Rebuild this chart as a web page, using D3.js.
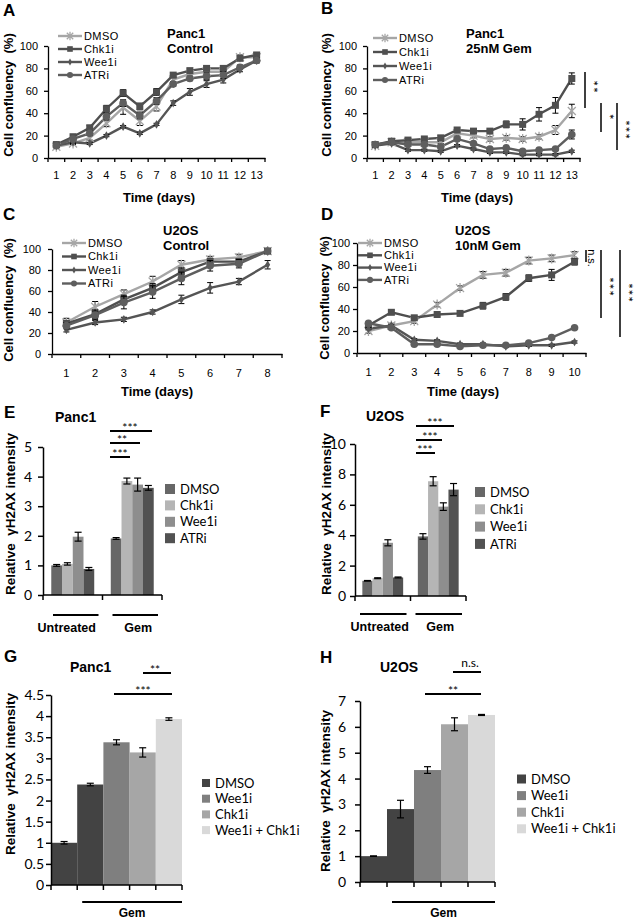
<!DOCTYPE html>
<html>
<head>
<meta charset="utf-8">
<script src="https://cdn.jsdelivr.net/npm/d3@7/dist/d3.min.js"></script>
<style>
  body { margin: 0; background: #fff; }
  svg text { font-family: "Liberation Sans", Arial, sans-serif; fill: #000; }
  svg text.cal { font-family: Lato, "Open Sans", sans-serif; }
</style>
</head>
<body>
<svg id="fig" width="636" height="920"></svg>
<script>
var treatments = ['DMSO', 'Chk1i', 'Wee1i', 'ATRi'];
var days13 = [1, 2, 3, 4, 5, 6, 7, 8, 9, 10, 11, 12, 13];
var days8 = [1, 2, 3, 4, 5, 6, 7, 8];
var days10 = [1, 2, 3, 4, 5, 6, 7, 8, 9, 10];
var confluencyTicks = [0, 20, 40, 60, 80, 100];

// A: Panc1 control
var aDmso = [10, 13, 18, 31, 45, 33, 46, 70, 75, 77, 77, 90, 90];
var aChk1i = [12, 19, 27, 44, 58, 46, 59, 74, 78, 80, 80, 89, 92];
var aWee1i = [11, 14, 13, 20, 28, 22, 30, 49, 59, 66, 70, 79, 87];
var aAtri = [11, 17, 22, 37, 49, 38, 51, 66, 71, 73, 74, 81, 87];
var aErr = [[1, 1, 2, 3, 6, 4, 4, 2, 2, 2, 2, 2, 2], [1, 2, 2, 3, 3, 3, 3, 2, 2, 2, 2, 2, 2],
  [1, 1, 1, 1, 1, 1, 1, 2, 3, 3, 3, 2, 2], [1, 1, 2, 3, 3, 3, 3, 2, 2, 3, 3, 2, 2]];

// B: Panc1 25nM Gem
var bDmso = [11, 14, 14, 14, 14, 22, 20, 17, 18, 17, 19, 25, 42];
var bChk1i = [12, 15, 16, 17, 18, 25, 24, 24, 30, 30, 39, 47, 71];
var bWee1i = [11, 13, 7, 7, 6, 11, 8, 5, 5, 3, 3, 3, 6];
var bAtri = [12, 14, 12, 12, 10, 17, 13, 8, 9, 6, 7, 8, 21];
var bErr = [[1, 1, 1, 1, 1, 2, 2, 2, 2, 2, 2, 4, 6], [1, 1, 1, 1, 2, 2, 2, 1, 3, 5, 6, 7, 5],
  [1, 1, 1, 1, 1, 1, 1, 1, 1, 1, 1, 1, 1], [1, 1, 1, 1, 1, 1, 1, 1, 1, 1, 1, 1, 4]];

// C: U2OS control
var cDmso = [30, 45, 57, 69, 85, 90, 92, 98];
var cChk1i = [29, 38, 52, 63, 78, 88, 88, 98];
var cWee1i = [23, 30, 33, 40, 52, 63, 69, 85];
var cAtri = [27, 37, 49, 59, 72, 84, 86, 98];
var cErr = [[4, 5, 4, 5, 4, 3, 3, 2], [3, 4, 4, 4, 4, 3, 3, 2], [2, 2, 2, 2, 4, 5, 3, 4], [3, 4, 6, 6, 6, 5, 4, 2]];

// D: U2OS 10nM Gem
var dDmso = [20, 25, 29, 44, 59, 71, 73, 84, 86, 89];
var dChk1i = [25, 37, 32, 35, 36, 43, 51, 68, 71, 83];
var dWee1i = [22, 25, 12, 11, 8, 8, 6, 7, 7, 10];
var dAtri = [27, 23, 8, 8, 6, 7, 7, 9, 14, 23];
var dErr = [[2, 2, 2, 2, 2, 3, 3, 3, 3, 3], [2, 2, 2, 2, 2, 3, 3, 3, 5, 3],
  [1, 1, 1, 1, 1, 1, 1, 1, 1, 1], [1, 1, 1, 1, 1, 1, 1, 1, 1, 1]];

// E, F: gammaH2AX, untreated vs Gem
var groups = ['Untreated', 'Gem'];
var eUntreated = [1.0, 1.05, 1.97, 0.88];
var eGem = [1.91, 3.85, 3.73, 3.62];
var eUntreatedErr = [0.03, 0.04, 0.15, 0.05];
var eGemErr = [0.03, 0.1, 0.22, 0.08];
var fUntreated = [1.0, 1.17, 3.5, 1.22];
var fGem = [3.92, 7.55, 5.88, 7.0];
var fUntreatedErr = [0.02, 0.03, 0.2, 0.03];
var fGemErr = [0.18, 0.3, 0.25, 0.4];

// G, H: combination
var comboBars = ['DMSO', 'DMSO+Gem', 'Wee1i+Gem', 'Chk1i+Gem', 'Combo+Gem'];
var comboLegend = ['DMSO', 'Wee1i', 'Chk1i', 'Wee1i + Chk1i'];
var gValues = [1.0, 2.38, 3.38, 3.14, 3.93];
var gErr = [0.03, 0.03, 0.06, 0.11, 0.03];
var hValues = [1.0, 2.82, 4.33, 6.1, 6.46];
var hErr = [0.01, 0.34, 0.13, 0.25, 0.02];

var svg = d3.select('#fig');
var lineColors = ['#a6a6a6', '#4f4f4f', '#555555', '#5e5e5e'];
var markers = ['star', 'square', 'diamond', 'circle'];
var barColors = ['#676767', '#b5b5b5', '#8e8e8e', '#525252'];
var comboColors = ['#434343', '#434343', '#7f7f7f', '#a6a6a6', '#d9d9d9'];
var comboLegendColors = ['#434343', '#7f7f7f', '#a6a6a6', '#d9d9d9'];

function drawMarker(g, type, x, y, color, k) {
  k = k || 1;
  if (type === 'star') {
    var r = 4 * k;
    g.append('path').attr('d', 'M' + (x - r) + ',' + (y - r) + 'L' + (x + r) + ',' + (y + r) +
      'M' + (x - r) + ',' + (y + r) + 'L' + (x + r) + ',' + (y - r) +
      'M' + x + ',' + (y - r - 1) + 'L' + x + ',' + (y + r + 1))
      .attr('stroke', color).attr('stroke-width', 1.3).attr('fill', 'none');
  } else if (type === 'square') {
    g.append('rect').attr('x', x - 3.5 * k).attr('y', y - 3.5 * k).attr('width', 7 * k).attr('height', 7 * k)
      .attr('fill', color);
  } else if (type === 'diamond') {
    g.append('path').attr('d', d3.symbol(d3.symbolDiamond, 22 * k * k)())
      .attr('transform', 'translate(' + x + ',' + y + ')').attr('fill', color);
  } else {
    g.append('circle').attr('cx', x).attr('cy', y).attr('r', 3.8 * k).attr('fill', color);
  }
}

function errorBar(g, x, yTop, yBottom, cap) {
  g.append('line').attr('x1', x).attr('x2', x).attr('y1', yTop).attr('y2', yBottom);
  g.append('line').attr('x1', x - cap).attr('x2', x + cap).attr('y1', yTop).attr('y2', yTop);
  g.append('line').attr('x1', x - cap).attr('x2', x + cap).attr('y1', yBottom).attr('y2', yBottom);
}

function lineChart(o) {
  var x = d3.scaleBand().domain(o.days).range([o.left, o.right]);
  var y = d3.scaleLinear().domain([0, 100]).range([o.bottom, o.top]);
  var g = svg.append('g');

  var xAxis = g.append('g').attr('transform', 'translate(0,' + o.bottom + ')')
    .call(d3.axisBottom(x).tickSize(0).tickPadding(o.tickPadX));
  xAxis.select('.domain').attr('stroke-width', 1.3);
  xAxis.selectAll('text').attr('font-size', 11);
  var edges = o.days.map(function(d) { return x(d); }).concat([o.right]);
  xAxis.selectAll('.edge').data(edges).enter().append('line')
    .attr('x1', function(d) { return d; }).attr('x2', function(d) { return d; })
    .attr('y1', 0).attr('y2', 4).attr('stroke', '#000').attr('stroke-width', 1.3);

  var yAxis = g.append('g').attr('transform', 'translate(' + o.left + ',0)')
    .call(d3.axisLeft(y).tickValues(confluencyTicks).tickSize(4).tickPadding(o.tickPadY).tickSizeOuter(0));
  yAxis.select('.domain').attr('stroke-width', 1.3);
  yAxis.selectAll('line').attr('stroke-width', 1.3);
  yAxis.selectAll('text').attr('font-size', 11);

  var line = d3.line().x(function(d, i) { return x(o.days[i]) + x.bandwidth() / 2; })
    .y(function(d) { return y(d); });

  o.data.forEach(function(vals, s) {
    g.append('path').datum(vals).attr('d', line).attr('fill', 'none')
      .attr('stroke', lineColors[s]).attr('stroke-width', 2.4);
  });
  o.data.forEach(function(vals, s) {
    var eg = g.append('g').attr('stroke', '#000').attr('stroke-width', 1);
    vals.forEach(function(v, i) {
      var cx = x(o.days[i]) + x.bandwidth() / 2;
      errorBar(eg, cx, y(v + o.errs[s][i]), y(v - o.errs[s][i]), 3);
    });
    var mg = g.append('g');
    vals.forEach(function(v, i) {
      drawMarker(mg, markers[s], x(o.days[i]) + x.bandwidth() / 2, y(v), lineColors[s]);
    });
  });

  var leg = g.append('g');
  treatments.forEach(function(t, s) {
    var ly = o.legY + s * o.legDy;
    leg.append('line').attr('x1', o.legX).attr('x2', o.legX + 24).attr('y1', ly).attr('y2', ly)
      .attr('stroke', lineColors[s]).attr('stroke-width', 2.4);
    drawMarker(leg, markers[s], o.legX + 12, ly, lineColors[s], 0.8);
    leg.append('text').attr('x', o.legX + 26).attr('y', ly).attr('dy', '0.35em')
      .attr('font-size', 11).attr('letter-spacing', 0.4).text(t);
  });

  o.title.forEach(function(t, i) {
    g.append('text').attr('x', o.titleX).attr('y', o.titleY + i * 15).attr('font-size', 13)
      .attr('font-weight', 'bold').text(t);
  });
  g.append('text').attr('x', o.xLabelX).attr('y', o.xLabelY).attr('text-anchor', 'middle')
    .attr('font-size', 13).attr('font-weight', 'bold').text('Time (days)');
  g.append('text').attr('transform', 'translate(' + o.yLabelX + ',' + o.yLabelY + ') rotate(-90)')
    .attr('text-anchor', 'middle').attr('dy', '0.35em').attr('font-size', 13).attr('font-weight', 'bold')
    .attr('xml:space', 'preserve').text('Cell confluency  (%)');
  g.append('text').attr('x', o.letterX).attr('y', o.letterY).attr('font-size', 17)
    .attr('font-weight', 'bold').text(o.letter);
}

// vertical significance bars, asterisks run downwards beside them
function verticalSig(bars) {
  bars.forEach(function(b) {
    svg.append('line').attr('x1', b.x).attr('x2', b.x).attr('y1', b.y1).attr('y2', b.y2)
      .attr('stroke', '#000').attr('stroke-width', 1.5);
    svg.append('text').attr('class', 'cal')
      .attr('transform', 'translate(' + (b.x + 3) + ',' + b.ty + ') rotate(90)')
      .attr('text-anchor', 'middle').attr('font-size', 14).attr('letter-spacing', 0.8).text(b.label);
  });
}

function horizontalSig(bars) {
  bars.forEach(function(b) {
    svg.append('line').attr('x1', b.x1).attr('x2', b.x2).attr('y1', b.y).attr('y2', b.y)
      .attr('stroke', '#000').attr('stroke-width', 2);
    svg.append('text').attr('class', 'cal').attr('x', b.tx).attr('y', b.y + 1)
      .attr('text-anchor', 'middle').attr('font-size', 12).text(b.label);
  });
}

function barAxes(g, o, y) {
  var yAxis = g.append('g').attr('transform', 'translate(' + o.left + ',0)')
    .call(d3.axisLeft(y).tickValues(o.ticks).tickSize(5).tickPadding(o.tickPad).tickSizeOuter(0)
      .tickFormat(function(d) { return String(d); }));
  yAxis.select('.domain').attr('stroke-width', 1.5);
  yAxis.selectAll('line').attr('stroke-width', 1.5);
  yAxis.selectAll('text').attr('class', 'cal').attr('font-size', 14);
  g.append('line').attr('x1', o.left).attr('x2', o.right).attr('y1', o.bottom).attr('y2', o.bottom)
    .attr('stroke', '#000').attr('stroke-width', 1.5);
  g.selectAll('.edge').data(o.edges).enter().append('line')
    .attr('x1', function(d) { return d; }).attr('x2', function(d) { return d; })
    .attr('y1', o.bottom).attr('y2', o.bottom + 5).attr('stroke', '#000').attr('stroke-width', 1.5);

  g.append('text').attr('x', o.titleX).attr('y', o.titleY).attr('font-size', 14)
    .attr('font-weight', 'bold').text(o.title);
  g.append('text').attr('transform', 'translate(' + o.yLabelX + ',' + o.yLabelY + ') rotate(-90)')
    .attr('text-anchor', 'middle').attr('dy', '0.35em').attr('font-size', 13.5).attr('font-weight', 'bold')
    .attr('xml:space', 'preserve').text('Relative  γH2AX intensity');
  g.append('text').attr('x', o.letterX).attr('y', o.letterY).attr('font-size', 17)
    .attr('font-weight', 'bold').text(o.letter);

  o.legend.forEach(function(t, i) {
    var ly = o.legY + i * o.legDy;
    g.append('rect').attr('x', o.legX).attr('y', ly - o.sq / 2).attr('width', o.sq).attr('height', o.sq)
      .attr('fill', o.legColors[i]);
    g.append('text').attr('class', 'cal').attr('x', o.legX + o.sq + 5).attr('y', ly).attr('dy', '0.36em')
      .attr('font-size', 13).text(t);
  });
}

function groupedBars(o) {
  var g = svg.append('g');
  var x0 = d3.scaleBand().domain(groups).range([o.left, o.right]);
  var x1 = d3.scaleBand().domain(treatments).range([0, x0.bandwidth()]).paddingOuter(o.outer);
  var y = d3.scaleLinear().domain([0, o.max]).range([o.bottom, o.top]);
  o.edges = [o.left, x0('Gem'), o.right];
  o.legend = treatments;
  o.legColors = barColors;

  [o.untreated, o.gem].forEach(function(vals, gi) {
    var errs = gi === 0 ? o.untreatedErr : o.gemErr;
    var gx = x0(groups[gi]);
    g.selectAll('.bar' + gi).data(vals).enter().append('rect')
      .attr('x', function(d, i) { return gx + x1(treatments[i]); })
      .attr('y', function(d) { return y(d); })
      .attr('width', x1.bandwidth())
      .attr('height', function(d) { return o.bottom - y(d); })
      .attr('fill', function(d, i) { return barColors[i]; });
    var eg = g.append('g').attr('stroke', '#000').attr('stroke-width', 1.2);
    vals.forEach(function(v, i) {
      errorBar(eg, gx + x1(treatments[i]) + x1.bandwidth() / 2, y(v + errs[i]), y(v - errs[i]), 3.5);
    });
    g.append('line').attr('x1', gx + o.under[0]).attr('x2', gx + x0.bandwidth() - o.under[1])
      .attr('y1', o.underY).attr('y2', o.underY).attr('stroke', '#000').attr('stroke-width', 2);
    g.append('text').attr('x', gx + x0.bandwidth() / 2 + o.groupShift[gi]).attr('y', o.underY + 17)
      .attr('text-anchor', 'middle').attr('font-size', 12.5).attr('font-weight', 'bold').text(groups[gi]);
  });
  barAxes(g, o, y);
}

function comboBarsChart(o) {
  var g = svg.append('g');
  var x = d3.scaleBand().domain(comboBars).range([o.left, o.right]);
  var y = d3.scaleLinear().domain([0, o.max]).range([o.bottom, o.top]);
  o.edges = comboBars.map(function(d) { return x(d); }).concat([o.right]);
  o.legend = comboLegend;
  o.legColors = comboLegendColors;

  g.selectAll('.bar').data(o.values).enter().append('rect')
    .attr('x', function(d, i) { return x(comboBars[i]); })
    .attr('y', function(d) { return y(d); })
    .attr('width', x.bandwidth())
    .attr('height', function(d) { return o.bottom - y(d); })
    .attr('fill', function(d, i) { return comboColors[i]; });
  var eg = g.append('g').attr('stroke', '#000').attr('stroke-width', 1.2);
  o.values.forEach(function(v, i) {
    errorBar(eg, x(comboBars[i]) + x.bandwidth() / 2, y(v + o.errs[i]), y(v - o.errs[i]), 3.5);
  });
  var gemStart = x(comboBars[1]) + 5;
  g.append('line').attr('x1', gemStart).attr('x2', o.right).attr('y1', o.underY).attr('y2', o.underY)
    .attr('stroke', '#000').attr('stroke-width', 2);
  g.append('text').attr('x', (gemStart + o.right) / 2).attr('y', o.underY + 15)
    .attr('text-anchor', 'middle').attr('font-size', 12).attr('font-weight', 'bold').text('Gem');
  barAxes(g, o, y);
}

lineChart({letter: 'A', letterX: 3, letterY: 16, days: days13, left: 48, right: 265, top: 46, bottom: 158,
  data: [aDmso, aChk1i, aWee1i, aAtri], errs: aErr, tickPadX: 13, tickPadY: 6,
  legX: 58, legY: 36, legDy: 13, title: ['Panc1', 'Control'], titleX: 167, titleY: 38,
  xLabelX: 159, xLabelY: 202, yLabelX: 8, yLabelY: 95});
lineChart({letter: 'B', letterX: 321, letterY: 14, days: days13, left: 367, right: 580, top: 46, bottom: 158,
  data: [bDmso, bChk1i, bWee1i, bAtri], errs: bErr, tickPadX: 13, tickPadY: 6,
  legX: 373, legY: 38, legDy: 14, title: ['Panc1', '25nM Gem'], titleX: 466, titleY: 38,
  xLabelX: 477, xLabelY: 202, yLabelX: 326, yLabelY: 95});
lineChart({letter: 'C', letterX: 3, letterY: 220, days: days8, left: 52, right: 282, top: 249, bottom: 354,
  data: [cDmso, cChk1i, cWee1i, cAtri], errs: cErr, tickPadX: 15, tickPadY: 7,
  legX: 62, legY: 243, legDy: 13.5, title: ['U2OS', 'Control'], titleX: 163, titleY: 235,
  xLabelX: 157, xLabelY: 396, yLabelX: 8, yLabelY: 300});
lineChart({letter: 'D', letterX: 321, letterY: 220, days: days10, left: 357, right: 586, top: 243, bottom: 353,
  data: [dDmso, dChk1i, dWee1i, dAtri], errs: dErr, tickPadX: 15, tickPadY: 3,
  legX: 358, legY: 243, legDy: 12.3, title: ['U2OS', '10nM Gem'], titleX: 455, titleY: 235,
  xLabelX: 463, xLabelY: 396, yLabelX: 324, yLabelY: 298});

verticalSig([
  {x: 585, y1: 72, y2: 108, ty: 87, label: '**'},
  {x: 601, y1: 103, y2: 132, ty: 117, label: '*'},
  {x: 617, y1: 103, y2: 150, ty: 130, label: '***'},
  {x: 601, y1: 250, y2: 318, ty: 287, label: '***'},
  {x: 620, y1: 250, y2: 337, ty: 293, label: '***'}
]);
svg.append('line').attr('x1', 586).attr('x2', 586).attr('y1', 250).attr('y2', 262)
  .attr('stroke', '#000').attr('stroke-width', 1.5);
svg.append('text').attr('transform', 'translate(592,258) rotate(90)').attr('text-anchor', 'middle')
  .attr('dy', '0.35em').attr('font-size', 11).text('n.s.');

groupedBars({letter: 'E', letterX: 4, letterY: 418, left: 43, right: 162, top: 447, bottom: 595, max: 5,
  ticks: [0, 1, 2, 3, 4, 5], tickPad: 6, outer: 0.77,
  untreated: eUntreated, gem: eGem, untreatedErr: eUntreatedErr, gemErr: eGemErr,
  under: [10, 4], underY: 615, groupShift: [-6, 6],
  title: 'Panc1', titleX: 55, titleY: 422, yLabelX: 10, yLabelY: 514,
  legX: 165, legY: 489, legDy: 16.4, sq: 10});
groupedBars({letter: 'F', letterX: 320, letterY: 417, left: 355, right: 466, top: 444, bottom: 596, max: 10,
  ticks: [0, 2, 4, 6, 8, 10], tickPad: 4, outer: 0.72,
  untreated: fUntreated, gem: fGem, untreatedErr: fUntreatedErr, gemErr: fGemErr,
  under: [5, 4], underY: 614, groupShift: [-3, 2],
  title: 'U2OS', titleX: 366, titleY: 421, yLabelX: 326, yLabelY: 514,
  legX: 475, legY: 492, legDy: 17.3, sq: 10});

comboBarsChart({letter: 'G', letterX: 4, letterY: 662, left: 51, right: 182, top: 695, bottom: 885, max: 4.5,
  ticks: [0, 0.5, 1, 1.5, 2, 2.5, 3, 3.5, 4, 4.5], tickPad: 2, values: gValues, errs: gErr,
  underY: 902, title: 'Panc1', titleX: 70, titleY: 672, yLabelX: 10, yLabelY: 774,
  legX: 202, legY: 783, legDy: 15.7, sq: 8});
comboBarsChart({letter: 'H', letterX: 320, letterY: 663, left: 360, right: 495, top: 701, bottom: 882, max: 7,
  ticks: [0, 1, 2, 3, 4, 5, 6, 7], tickPad: 9, values: hValues, errs: hErr,
  underY: 902, title: 'U2OS', titleX: 380, titleY: 672, yLabelX: 325, yLabelY: 791,
  legX: 517, legY: 779, legDy: 16.6, sq: 9});

horizontalSig([
  {x1: 110, x2: 152, y: 431, tx: 130, label: '***'},
  {x1: 110, x2: 140, y: 443, tx: 122, label: '**'},
  {x1: 110, x2: 130, y: 457, tx: 120, label: '***'},
  {x1: 416, x2: 454, y: 426, tx: 435, label: '***'},
  {x1: 416, x2: 442, y: 440, tx: 430, label: '***'},
  {x1: 416, x2: 435, y: 453, tx: 425, label: '***'},
  {x1: 143, x2: 171, y: 673, tx: 155, label: '**'},
  {x1: 114, x2: 172, y: 694, tx: 143, label: '***'},
  {x1: 425, x2: 481, y: 694, tx: 453, label: '**'}
]);
svg.append('line').attr('x1', 453).attr('x2', 481).attr('y1', 672).attr('y2', 672)
  .attr('stroke', '#000').attr('stroke-width', 2);
svg.append('text').attr('class', 'cal').attr('x', 470).attr('y', 667).attr('text-anchor', 'middle')
  .attr('font-size', 12).text('n.s.');
</script>
</body>
</html>
